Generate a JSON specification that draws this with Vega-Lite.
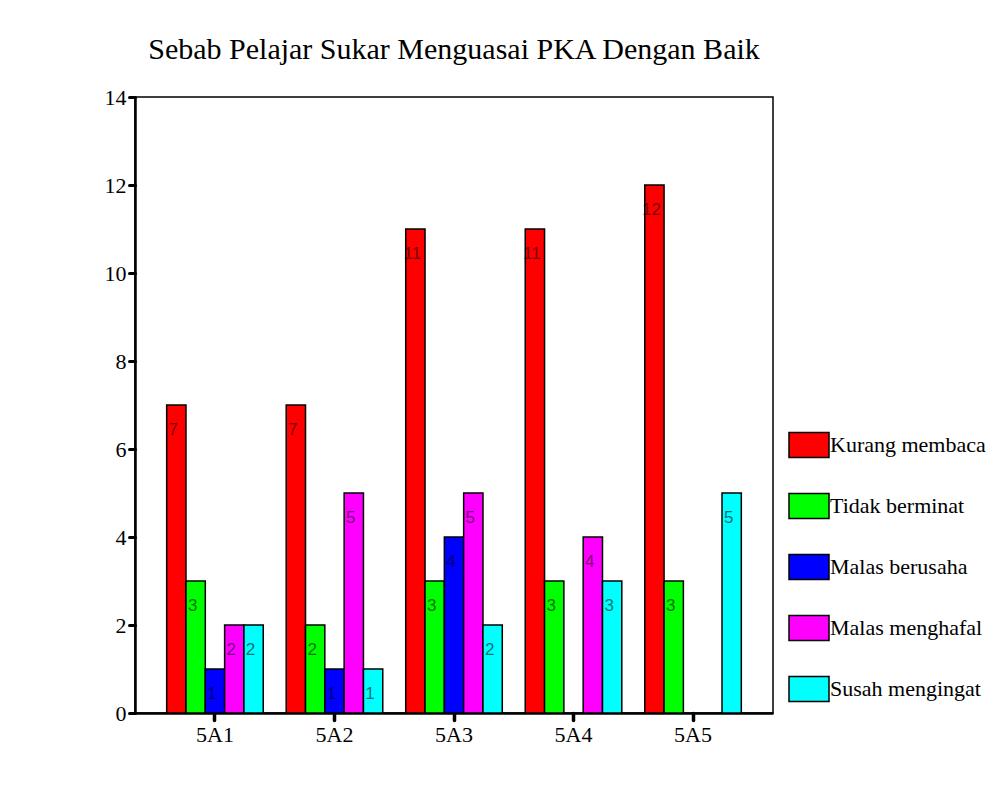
{
  "$schema": "https://vega.github.io/schema/vega-lite/v6.json",
  "autosize": "none",
  "width": 638,
  "height": 616,
  "padding": {"left": 135, "top": 97, "right": 229, "bottom": 75},
  "background": "white",
  "title": {
    "text": "Sebab Pelajar Sukar Menguasai PKA Dengan Baik",
    "font": "Liberation Serif",
    "fontSize": 30,
    "fontWeight": "normal",
    "color": "black",
    "anchor": "middle",
    "frame": "group",
    "baseline": "alphabetic",
    "offset": -3
  },
  "data": {
    "values": [
      {"kelas": "5A1", "sebab": "Kurang membaca", "jumlah": 7},
      {"kelas": "5A1", "sebab": "Tidak berminat", "jumlah": 3},
      {"kelas": "5A1", "sebab": "Malas berusaha", "jumlah": 1},
      {"kelas": "5A1", "sebab": "Malas menghafal", "jumlah": 2},
      {"kelas": "5A1", "sebab": "Susah mengingat", "jumlah": 2},
      {"kelas": "5A2", "sebab": "Kurang membaca", "jumlah": 7},
      {"kelas": "5A2", "sebab": "Tidak berminat", "jumlah": 2},
      {"kelas": "5A2", "sebab": "Malas berusaha", "jumlah": 1},
      {"kelas": "5A2", "sebab": "Malas menghafal", "jumlah": 5},
      {"kelas": "5A2", "sebab": "Susah mengingat", "jumlah": 1},
      {"kelas": "5A3", "sebab": "Kurang membaca", "jumlah": 11},
      {"kelas": "5A3", "sebab": "Tidak berminat", "jumlah": 3},
      {"kelas": "5A3", "sebab": "Malas berusaha", "jumlah": 4},
      {"kelas": "5A3", "sebab": "Malas menghafal", "jumlah": 5},
      {"kelas": "5A3", "sebab": "Susah mengingat", "jumlah": 2},
      {"kelas": "5A4", "sebab": "Kurang membaca", "jumlah": 11},
      {"kelas": "5A4", "sebab": "Tidak berminat", "jumlah": 3},
      {"kelas": "5A4", "sebab": "Malas menghafal", "jumlah": 4},
      {"kelas": "5A4", "sebab": "Susah mengingat", "jumlah": 3},
      {"kelas": "5A5", "sebab": "Kurang membaca", "jumlah": 12},
      {"kelas": "5A5", "sebab": "Tidak berminat", "jumlah": 3},
      {"kelas": "5A5", "sebab": "Susah mengingat", "jumlah": 5}
    ]
  },
  "encoding": {
    "x": {
      "field": "kelas",
      "type": "nominal",
      "scale": {"paddingInner": 0.192, "paddingOuter": 0.265},
      "axis": {
        "title": null,
        "labelAngle": 0,
        "labelFont": "Liberation Serif",
        "labelFontSize": 22,
        "labelColor": "black",
        "labelPadding": 4,
        "tickSize": 7,
        "tickWidth": 3.5,
        "tickCap": "round",
        "tickColor": "black",
        "domainColor": "black",
        "domainWidth": 2.5
      }
    },
    "xOffset": {
      "field": "sebab",
      "type": "nominal",
      "scale": {
        "domain": ["Kurang membaca", "Tidak berminat", "Malas berusaha", "Malas menghafal", "Susah mengingat"],
        "paddingInner": 0,
        "paddingOuter": 0
      }
    },
    "y": {
      "field": "jumlah",
      "type": "quantitative",
      "scale": {"domain": [0, 14], "nice": false},
      "axis": {
        "title": null,
        "values": [0, 2, 4, 6, 8, 10, 12, 14],
        "grid": false,
        "labelFont": "Liberation Serif",
        "labelFontSize": 22,
        "labelColor": "black",
        "labelPadding": 3,
        "tickSize": 6,
        "tickWidth": 3,
        "tickCap": "round",
        "tickColor": "black",
        "domainColor": "black",
        "domainWidth": 2.5
      }
    }
  },
  "layer": [
    {
      "mark": {"type": "bar", "stroke": "black", "strokeWidth": 1.5, "opacity": 1},
      "encoding": {
        "color": {
          "field": "sebab",
          "type": "nominal",
          "scale": {
            "domain": ["Kurang membaca", "Tidak berminat", "Malas berusaha", "Malas menghafal", "Susah mengingat"],
            "range": ["#FF0000", "#00FF00", "#0000FF", "#FF00FF", "#00FFFF"]
          },
          "legend": {
            "title": null,
            "orient": "none",
            "legendX": 653,
            "legendY": 327,
            "symbolType": "M-1,-0.625H1V0.625H-1Z",
            "symbolSize": 1600,
            "symbolStrokeColor": "black",
            "symbolStrokeWidth": 1.5,
            "symbolOpacity": 1,
            "rowPadding": 24,
            "labelFont": "Liberation Serif",
            "labelFontSize": 22,
            "labelColor": "black",
            "labelOffset": 0,
            "labelLimit": 300
          }
        }
      }
    },
    {
      "mark": {
        "type": "text",
        "font": "Liberation Sans",
        "fontSize": 17,
        "baseline": "top",
        "align": "center",
        "dy": 17,
        "dx": -3,
        "color": "black",
        "opacity": 0.55
      },
      "encoding": {
        "text": {"field": "jumlah", "type": "quantitative"}
      }
    }
  ],
  "config": {
    "view": {"stroke": "black", "strokeWidth": 1.5}
  }
}
